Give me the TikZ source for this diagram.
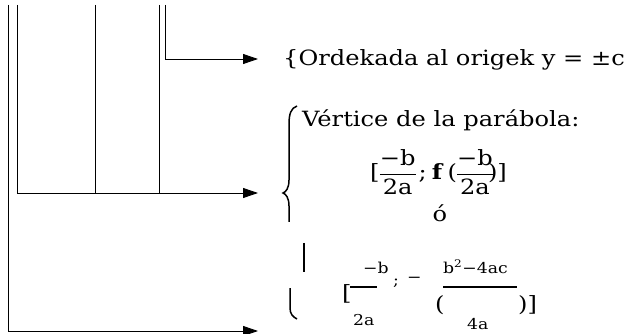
\documentclass[tikz,border=0pt]{standalone}
\usepackage{amsmath}
\usepackage{fontspec}
\setmainfont{DejaVu Serif}[FakeStretch=1.15]
\usetikzlibrary{arrows.meta}

\tikzset{
  trunk/.style={line width=0.9pt},
  feed/.style={line width=0.9pt,-{Triangle[length=15pt,width=10pt]}},
  brace/.style={line width=1.5pt},
  fracbar/.style={line width=2.4pt},
  txt/.style={inner sep=0pt,anchor=base west,font=\fontsize{21}{24}\selectfont},
  small/.style={inner sep=0pt,anchor=base west,font=\fontsize{15}{17}\selectfont},
}

\begin{document}
\begin{tikzpicture}[x=1pt,y=-1pt]
\useasboundingbox (0,0) rectangle (630,334);
% upper ends of the five lines
\coordinate (rootA) at (8,5);
\coordinate (rootB) at (17,5);
\coordinate (rootC) at (95,5);
\coordinate (rootD) at (159,5);
\coordinate (rootE) at (165,5);
% arrow tips
\coordinate (tipTop) at (258,59);
\coordinate (tipMid) at (258,193);
\coordinate (tipLow) at (258,331);
% texts
\node[txt] (orden) at (283,66) {\{Ordekada al origek y = ±c};
\node[txt] (vertice) at (302,127) {Vértice de la parábola:};
\node[txt] (vform) at (370,180) {[\hspace{-1pt}$\dfrac{\text{−b}}{\text{2a}}$\hspace{2pt};\hspace{5pt}\textbf{f}\hspace{4pt}(\hspace{-1pt}$\dfrac{\text{−b}}{\text{2a}}$\hspace{-6pt})]};
\node[txt,anchor=base] (oo) at (440,222) {ó};
\node[txt] (lbrack) at (342,300) {[};
\node[small] (numB) at (363,273) {−b};
\node[small] (denA) at (353,325) {2a};
\node[small] (semi) at (393,286) {;};
\node[small] (minus) at (407,283) {−};
\node[txt] (lpar) at (435,312) {(};
\node[small] (numD) at (443,273) {b\textsuperscript{2}−4ac};
\node[small] (denF) at (467,330) {4a};
\node[txt] (rpar) at (518,312) {)]};
\draw[fracbar] (350,287) -- (377,287);
\draw[fracbar] (443,287) -- (517,287);
% braces
\draw[brace] (297,106) .. controls (291,108) and (289,114) .. (289,124) -- (289,180)
  .. controls (289,188) and (286,192) .. (283,193)
  .. controls (286,194) and (289,198) .. (289,206) -- (289,222);
\draw[brace] (304,243) -- (304,272);
\draw[brace] (290,288) -- (290,308) .. controls (290,314) and (293,317) .. (297,319);
% lines
\draw[feed] (rootA) |- (tipLow);
\draw[feed] (rootB) |- (tipMid);
\draw[trunk] (rootC) -- (rootC |- tipMid);
\draw[trunk] (rootD) -- (rootD |- tipMid);
\draw[feed] (rootE) |- (tipTop);
\end{tikzpicture}
\end{document}
